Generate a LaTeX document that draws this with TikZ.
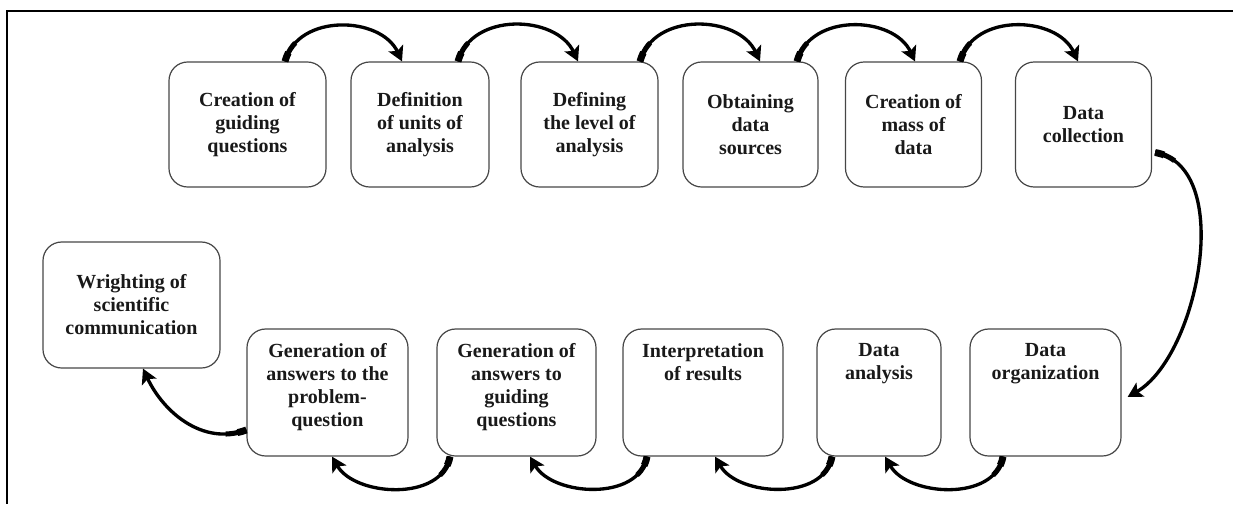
\documentclass[tikz,border=0pt]{standalone}
\usepackage{fontspec}
\setmainfont{Liberation Serif}
\usetikzlibrary{arrows.meta}
\usetikzlibrary{calc}
\definecolor{boxgray}{RGB}{70,70,70}
\definecolor{inkblack}{RGB}{25,25,25}
\tikzstyle{stepbox}=[draw=boxgray,line width=0.9pt,rounded corners=14pt,align=center,inner sep=2pt,text=inkblack,font=\bfseries\fontsize{15}{17.25}\selectfont]
\tikzstyle{flowarrow}=[draw=black,line width=2.5pt,-{Stealth[length=11pt,width=12pt,inset=2.5pt]},
  postaction={draw,-,line width=3.8pt,dash pattern=on 16pt off 2000pt},
  postaction={draw,-,line width=5.2pt,dash pattern=on 7pt off 2000pt}]
\newcommand{\toplines}[2]{\parbox[c][74pt][t]{#1}{\centering #2}}

\begin{document}
\begin{tikzpicture}[x=0.75pt,y=-0.75pt]
    \useasboundingbox (0,0) rectangle (1233,504);
    \draw[line width=1.9pt] (1233,11) -- (7,11) -- (7,504);

    % upper row
    \node[stepbox,minimum width=117.75pt,minimum height=93.75pt] (n1) at (247.5,124.5) {Creation of\\guiding\\questions};
    \node[stepbox,minimum width=103.5pt,minimum height=93.75pt] (n2) at (420,124.5) {Definition\\of units of\\analysis};
    \node[stepbox,minimum width=102.75pt,minimum height=93.75pt] (n3) at (589.5,124.5) {Defining\\the level of\\analysis};
    \node[stepbox,minimum width=101.25pt,minimum height=93.75pt] (n4) at (750.5,124.5) {Obtaining\\data\\sources};
    \node[stepbox,minimum width=102pt,minimum height=93.75pt] (n5) at (913.5,124.5) {Creation of\\mass of\\data};
    \node[stepbox,minimum width=102pt,minimum height=93.75pt] (n6) at (1083.5,124.5) {Data\\collection};

    % lower row
    \node[stepbox,minimum width=113.25pt,minimum height=95.25pt] (m6) at (1045.5,392.5) {\toplines{100pt}{Data\\organization}};
    \node[stepbox,minimum width=93pt,minimum height=95.25pt] (m5) at (879,392.5) {\toplines{85pt}{Data\\analysis}};
    \node[stepbox,minimum width=120pt,minimum height=95.25pt] (m4) at (703,392.5) {\toplines{110pt}{Interpretation\\of results}};
    \node[stepbox,minimum width=119.25pt,minimum height=95.25pt] (m3) at (516.5,392.5) {\toplines{110pt}{Generation of\\answers to\\guiding\\questions}};
    \node[stepbox,minimum width=120.75pt,minimum height=95.25pt] (m2) at (327.5,392.5) {\toplines{112pt}{Generation of\\answers to the\\problem-\\question}};
    \node[stepbox,minimum width=132.75pt,minimum height=94.5pt] (m1) at (131.5,305) {Wrighting of\\scientific\\communication};

    \draw[flowarrow] ($(n1.north)+(37.5,0)$) to[out=75,in=115,looseness=1.1] ($(n2.north)+(-18,0)$);
    \draw[flowarrow] ($(n2.north)+(38,0)$) to[out=75,in=115,looseness=1.1] ($(n3.north)+(-11.5,0)$);
    \draw[flowarrow] ($(n3.north)+(50.5,0)$) to[out=75,in=115,looseness=1.1] ($(n4.north)+(9.5,0)$);
    \draw[flowarrow] ($(n4.north)+(46.5,0)$) to[out=75,in=115,looseness=1.1] ($(n5.north)+(1.5,0)$);
    \draw[flowarrow] ($(n5.north)+(46.5,0)$) to[out=75,in=115,looseness=1.1] ($(n6.north)+(-5.5,0)$);

    \draw[flowarrow] ($(n6.east)+(3,28)$) to[out=-10,in=30,looseness=0.85] ($(m6.east)+(6,4.5)$);

    \draw[flowarrow] ($(m6.south)+(-42.5,0)$) to[out=-100,in=-60] ($(m5.south)+(6,0)$);
    \draw[flowarrow] ($(m5.south)+(-47,0)$) to[out=-100,in=-60] ($(m4.south)+(12,0)$);
    \draw[flowarrow] ($(m4.south)+(-56,0)$) to[out=-100,in=-60] ($(m3.south)+(13.5,0)$);
    \draw[flowarrow] ($(m3.south)+(-66.5,0)$) to[out=-100,in=-60] ($(m2.south)+(4.5,0)$);
    \draw[flowarrow] ($(m2.west)+(0,37.5)$) to[out=200,in=-65] ($(m1.south)+(11.5,0)$);
\end{tikzpicture}
\end{document}
